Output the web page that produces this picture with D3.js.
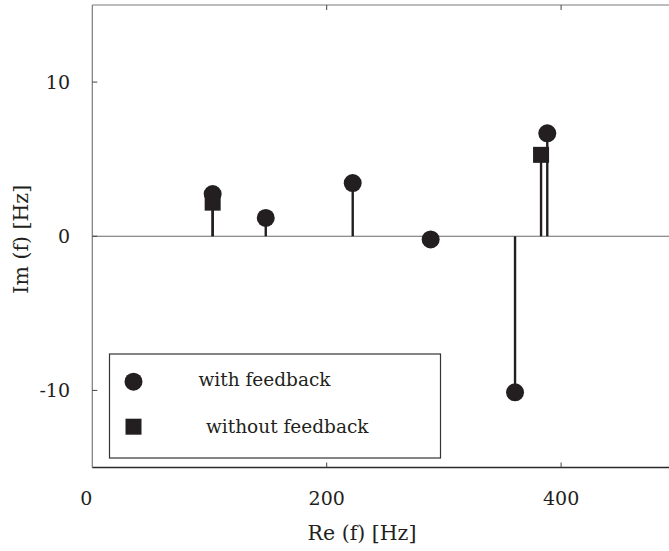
<!DOCTYPE html>
<html>
<head>
<meta charset="utf-8">
<script src="https://cdn.jsdelivr.net/npm/d3@7/dist/d3.min.js"></script>
<style>
    body { margin: 0; background: #fff; }
    svg text { font-family: "DejaVu Serif", serif; fill: #231f20; }
</style>
</head>
<body>
<svg id="chart" width="669" height="551"></svg>
<script>
    // Eigenfrequencies, real part vs imaginary part
    const withRe = [102.7, 148.0, 222.2, 288.7, 360.7, 388.2];
    const withIm = [2.74, 1.19, 3.45, -0.21, -10.12, 6.68];
    const withoutRe = [102.7, 382.9];
    const withoutIm = [2.18, 5.28];

    const xTicks = [0, 200, 400];
    const yTicks = [-10, 0, 10];
    const legendLabels = ['with feedback', 'without feedback'];

    const WIDTH = 669;
    const HEIGHT = 551;
    const margin = { top: 5, left: 92.3, bottom: 83.5 };
    const INK = '#231f20';

    const svg = d3.select('#chart');

    const x = d3.scaleLinear().domain([0, 500]).range([margin.left, margin.left + 586]);
    const y = d3.scaleLinear().domain([-15, 15]).range([HEIGHT - margin.bottom, margin.top]);

    const x0 = x(0), x1 = x(500), yTop = y(15), yBot = y(-15);

    // Frame: left and top in grey, bottom darker
    svg.append('line').attr('x1', x0).attr('x2', x0).attr('y1', yTop).attr('y2', yBot)
        .attr('stroke', '#7a7a7a').attr('stroke-width', 1.2);
    svg.append('line').attr('x1', x0).attr('x2', x1).attr('y1', yTop).attr('y2', yTop)
        .attr('stroke', '#7a7a7a').attr('stroke-width', 1.2);
    svg.append('line').attr('x1', x0).attr('x2', x1).attr('y1', yBot).attr('y2', yBot)
        .attr('stroke', '#2a2a2a').attr('stroke-width', 1.4);

    // Zero line
    svg.append('line').attr('x1', x0).attr('x2', x1).attr('y1', y(0)).attr('y2', y(0))
        .attr('stroke', '#6a6a6a').attr('stroke-width', 1.2);

    // Ticks (inward)
    const xAxis = svg.append('g').attr('class', 'x-ticks');
    xTicks.forEach(t => {
        if (t === 0) return;
        xAxis.append('line').attr('x1', x(t)).attr('x2', x(t)).attr('y1', yBot).attr('y2', yBot - 5)
            .attr('stroke', '#444').attr('stroke-width', 1);
        xAxis.append('line').attr('x1', x(t)).attr('x2', x(t)).attr('y1', yTop).attr('y2', yTop + 5)
            .attr('stroke', '#444').attr('stroke-width', 1);
    });
    xAxis.selectAll('text').data(xTicks).join('text')
        .attr('x', d => d === 0 ? x(d) - 6 : x(d))
        .attr('y', 505)
        .attr('text-anchor', 'middle')
        .attr('font-size', 19)
        .text(d => d);

    const yAxis = svg.append('g').attr('class', 'y-ticks');
    yTicks.forEach(t => {
        yAxis.append('line').attr('x1', x0).attr('x2', x0 + 5).attr('y1', y(t)).attr('y2', y(t))
            .attr('stroke', '#444').attr('stroke-width', 1);
    });
    yAxis.selectAll('text').data(yTicks).join('text')
        .attr('x', 70)
        .attr('y', d => y(d) + 7)
        .attr('text-anchor', 'end')
        .attr('font-size', 19)
        .text(d => d);

    // Axis titles
    svg.append('text')
        .attr('x', 362).attr('y', 540)
        .attr('text-anchor', 'middle')
        .attr('font-size', 20.5)
        .text('Re (f) [Hz]');
    svg.append('text')
        .attr('transform', `translate(28,${y(0) + 3}) rotate(-90)`)
        .attr('text-anchor', 'middle')
        .attr('font-size', 20.5)
        .text('Im (f) [Hz]');

    // Stems
    const withPts = withRe.map((r, i) => ({ re: r, im: withIm[i] }));
    const withoutPts = withoutRe.map((r, i) => ({ re: r, im: withoutIm[i] }));

    svg.append('g').selectAll('line').data(withPts.concat(withoutPts)).join('line')
        .attr('x1', d => x(d.re)).attr('x2', d => x(d.re))
        .attr('y1', y(0)).attr('y2', d => y(d.im))
        .attr('stroke', INK).attr('stroke-width', 2.4);

    // Squares (without feedback) drawn first, circles on top
    const SQ = 16;
    svg.append('g').selectAll('rect').data(withoutPts).join('rect')
        .attr('x', d => x(d.re) - SQ / 2).attr('y', d => y(d.im) - SQ / 2)
        .attr('width', SQ).attr('height', SQ)
        .attr('fill', INK);

    svg.append('g').selectAll('circle').data(withPts).join('circle')
        .attr('cx', d => x(d.re)).attr('cy', d => y(d.im))
        .attr('r', 9)
        .attr('fill', INK);

    // Legend
    const legend = svg.append('g').attr('class', 'legend');
    legend.append('rect')
        .attr('x', 109.5).attr('y', 354).attr('width', 331).attr('height', 104)
        .attr('fill', '#fff').attr('stroke', '#333').attr('stroke-width', 1.2);
    legend.append('circle').attr('cx', 133.5).attr('cy', 381.7).attr('r', 9).attr('fill', INK);
    legend.append('rect').attr('x', 125.5).attr('y', 418.7).attr('width', SQ).attr('height', SQ).attr('fill', INK);
    legend.append('text')
        .attr('x', 198.5).attr('y', 386)
        .attr('font-size', 18.5)
        .text(legendLabels[0]);
    legend.append('text')
        .attr('x', 206).attr('y', 433)
        .attr('font-size', 18.5)
        .text(legendLabels[1]);
</script>
</body>
</html>
